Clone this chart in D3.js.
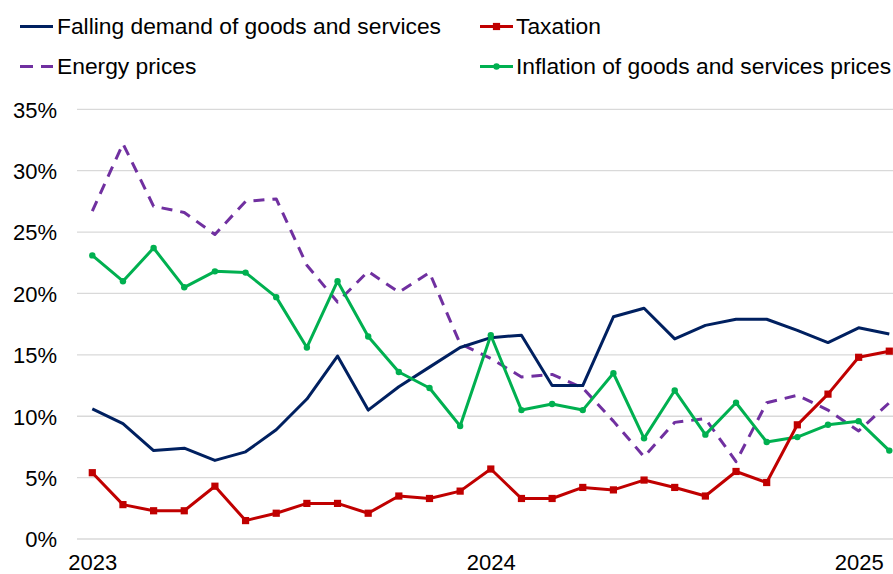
<!DOCTYPE html>
<html>
<head>
<meta charset="utf-8">
<script src="https://cdn.jsdelivr.net/npm/d3@7"></script>
<style>
  html, body { margin: 0; padding: 0; background: #ffffff; }
  svg { display: block; }
  text { font-family: "Liberation Sans", Arial, sans-serif; fill: #000; }
</style>
</head>
<body>
<svg id="chart" width="893" height="574"></svg>
<script>
// Share of respondents citing each factor, one value per survey period
const periodCount = 27;
const yearLabels = ["2023", "2024", "2025"];
const yearPositions = [0, 13, 25];
const yTicks = [0, 5, 10, 15, 20, 25, 30, 35];

const fallingDemand = [10.6, 9.4, 7.2, 7.4, 6.4, 7.1, 8.9, 11.4, 14.9, 10.5, 12.4, 14.0, 15.6, 16.4,
  16.6, 12.5, 12.5, 18.1, 18.8, 16.3, 17.4, 17.9, 17.9, 17.0, 16.0, 17.2, 16.7];
const taxation = [5.4, 2.8, 2.3, 2.3, 4.3, 1.5, 2.1, 2.9, 2.9, 2.1, 3.5, 3.3, 3.9, 5.7,
  3.3, 3.3, 4.2, 4.0, 4.8, 4.2, 3.5, 5.5, 4.6, 9.3, 11.8, 14.8, 15.3];
const energyPrices = [26.7, 32.2, 27.1, 26.6, 24.8, 27.5, 27.7, 22.3, 19.3, 21.8, 20.1, 21.7, 15.9, 14.7,
  13.2, 13.4, 12.3, 9.6, 6.7, 9.5, 9.8, 6.3, 11.1, 11.7, 10.5, 8.8, 11.1];
const inflation = [23.1, 21.0, 23.7, 20.5, 21.8, 21.7, 19.7, 15.6, 21.0, 16.5, 13.6, 12.3, 9.2, 16.6,
  10.5, 11.0, 10.5, 13.5, 8.2, 12.1, 8.5, 11.1, 7.9, 8.3, 9.3, 9.6, 7.2];

const seriesNames = ["Falling demand of goods and services", "Taxation", "Energy prices",
  "Inflation of goods and services prices"];

const svg = d3.select("#chart");

const x = d3.scaleLinear().domain([0, periodCount - 1]).range([92.3, 889.3]);
const y = d3.scaleLinear().domain([0, 35]).range([539, 109.3]);

// Horizontal gridlines
svg.append("g")
  .selectAll("line")
  .data(yTicks)
  .join("line")
  .attr("x1", 77).attr("x2", 893)
  .attr("y1", d => y(d)).attr("y2", d => y(d))
  .attr("stroke", "#d9d9d9")
  .attr("stroke-width", 1.3);

// Y axis labels
const yAxis = d3.axisLeft(y).tickValues(yTicks).tickSize(0).tickPadding(0)
  .tickFormat(d => d + "%");
svg.append("g")
  .attr("transform", "translate(57,0)")
  .call(yAxis)
  .call(g => g.select(".domain").remove())
  .call(g => g.selectAll("text")
    .attr("font-size", 22)
    .attr("font-family", "Liberation Sans, Arial, sans-serif")
    .attr("fill", "#000")
    .attr("dy", "0.36em"));

// X axis year labels
const xAxis = d3.axisBottom(x).tickValues(yearPositions).tickSize(0).tickPadding(0)
  .tickFormat((d, i) => yearLabels[i]);
svg.append("g")
  .attr("transform", "translate(0,550)")
  .call(xAxis)
  .call(g => g.select(".domain").remove())
  .call(g => g.selectAll("text")
    .attr("font-size", 22)
    .attr("font-family", "Liberation Sans, Arial, sans-serif")
    .attr("fill", "#000")
    .attr("dy", "0.9em"));

const line = d3.line().x((d, i) => x(i)).y(d => y(d));

const series = [
  { name: seriesNames[0], values: fallingDemand, color: "#002060", dash: null, marker: null },
  { name: seriesNames[1], values: taxation, color: "#C00000", dash: null, marker: "square" },
  { name: seriesNames[2], values: energyPrices, color: "#7030A0", dash: "11,8", marker: null },
  { name: seriesNames[3], values: inflation, color: "#00B050", dash: null, marker: "circle" }
];

// Draw order: energy, demand, inflation, taxation
const drawOrder = [2, 0, 3, 1];
drawOrder.forEach(k => {
  const s = series[k];
  const g = svg.append("g");
  g.append("path")
    .datum(s.values)
    .attr("d", line)
    .attr("fill", "none")
    .attr("stroke", s.color)
    .attr("stroke-width", 3)
    .attr("stroke-linejoin", "round")
    .attr("stroke-dasharray", s.dash);
  if (s.marker === "square") {
    g.selectAll("rect")
      .data(s.values)
      .join("rect")
      .attr("x", (d, i) => x(i) - 3.6)
      .attr("y", d => y(d) - 3.6)
      .attr("width", 7.2).attr("height", 7.2)
      .attr("fill", s.color);
  } else if (s.marker === "circle") {
    g.selectAll("circle")
      .data(s.values)
      .join("circle")
      .attr("cx", (d, i) => x(i))
      .attr("cy", d => y(d))
      .attr("r", 3.2)
      .attr("fill", s.color);
  }
});

// Legend, two rows of two entries
const legendItems = [
  { s: series[0], lx: 20, ly: 26.5, tx: 57 },
  { s: series[1], lx: 480, ly: 26.5, tx: 516 },
  { s: series[2], lx: 20, ly: 66.5, tx: 57 },
  { s: series[3], lx: 480, ly: 66.5, tx: 516 }
];
const legend = svg.append("g");
legendItems.forEach(it => {
  const g = legend.append("g");
  g.append("line")
    .attr("x1", it.lx).attr("x2", it.lx + 33)
    .attr("y1", it.ly).attr("y2", it.ly)
    .attr("stroke", it.s.color)
    .attr("stroke-width", 3)
    .attr("stroke-dasharray", it.s.dash ? "13,8" : null);
  if (it.s.marker === "square") {
    g.append("rect")
      .attr("x", it.lx + 16.5 - 3.6).attr("y", it.ly - 3.6)
      .attr("width", 7.2).attr("height", 7.2)
      .attr("fill", it.s.color);
  } else if (it.s.marker === "circle") {
    g.append("circle")
      .attr("cx", it.lx + 16.5).attr("cy", it.ly)
      .attr("r", 3.2)
      .attr("fill", it.s.color);
  }
  g.append("text")
    .attr("x", it.tx)
    .attr("y", it.ly + 7.5)
    .attr("font-size", 22.8)
    .text(it.s.name);
});
</script>
</body>
</html>
